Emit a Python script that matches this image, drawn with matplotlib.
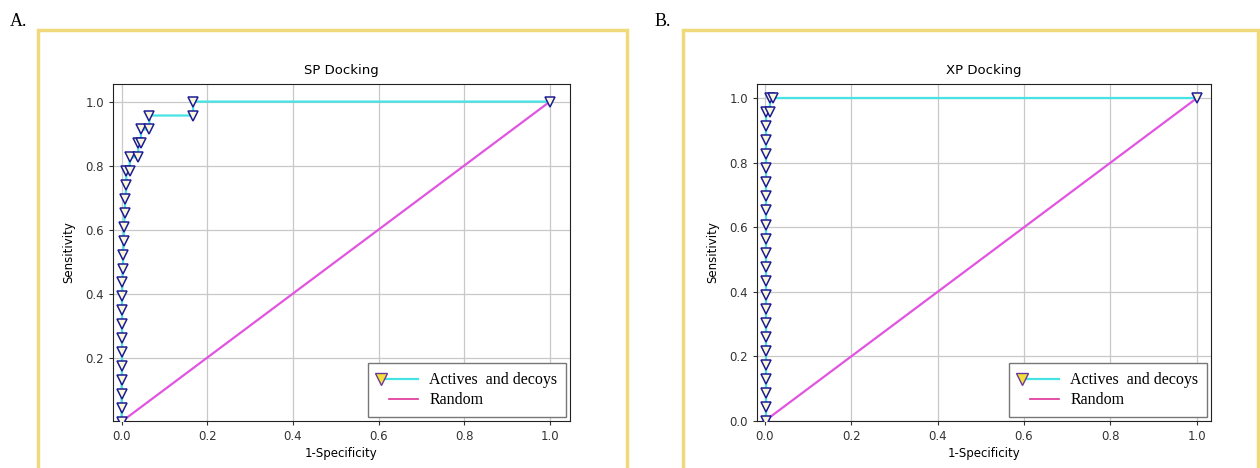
import matplotlib
matplotlib.use('Agg')
import matplotlib.pyplot as plt
from matplotlib.lines import Line2D
from matplotlib.legend_handler import HandlerLine2D
from matplotlib.patches import Rectangle

# ROC points (23 actives)
n_act = 23
tpr_steps = [k / n_act for k in range(n_act + 1)]

sp_fpr = [0, 0, 0, 0, 0.001, 0.001, 0.001, 0.001, 0.001, 0.001, 0.002, 0.003,
          0.004, 0.005, 0.006, 0.007, 0.009, 0.011, 0.011, 0.019, 0.019, 0.039,
          0.039, 0.045, 0.045, 0.065, 0.065, 0.167, 0.167, 1.0]
sp_tpr = tpr_steps[:19] + [tpr_steps[18], tpr_steps[19], tpr_steps[19], tpr_steps[20],
                           tpr_steps[20], tpr_steps[21], tpr_steps[21], tpr_steps[22],
                           tpr_steps[22], tpr_steps[23], 1.0]

xp_fpr = [0.002] * 23 + [0.011, 0.011, 0.018, 1.0]
xp_tpr = tpr_steps[:23] + [tpr_steps[22], 1.0, 1.0, 1.0]

random_x = [0, 1]
random_y = [0, 1]

titles = ['SP Docking', 'XP Docking']
panel_labels = ['A.', 'B.']
legend_labels = ['Actives  and decoys', 'Random']

CYAN = '#45e3e3'
MAGENTA = '#e155e1'
EDGE = '#1c1c96'


class OffsetLineHandler(HandlerLine2D):
    """Legend line starting a bit inside the handle box, marker at its left end"""
    def __init__(self, start=0.15, **kw):
        super().__init__(**kw)
        self.start = start

    def create_artists(self, *args, **kwargs):
        artists = super().create_artists(*args, **kwargs)
        for a in artists:
            x = a.get_xdata()
            a.set_xdata([x[0] + self.start * (x[-1] - x[0]), x[-1]])
            a.set_ydata([a.get_ydata()[0]] * 2)
            a.set_markevery([0])
        return artists


def draw_panel(ax, fpr, tpr, title, xlim, ylim, yticks):
    ax.plot(fpr, tpr, color=CYAN, lw=1.6, marker='v', markersize=6.5,
            markerfacecolor='#fbf8d8', markeredgecolor=EDGE, markeredgewidth=1.1, zorder=3)
    ax.plot(random_x, random_y, color=MAGENTA, lw=1.6, zorder=2)
    ax.set_xlim(*xlim)
    ax.set_ylim(*ylim)
    ax.set_xticks([0.0, 0.2, 0.4, 0.6, 0.8, 1.0])
    ax.set_yticks(yticks)
    ax.tick_params(labelsize=8.5, colors='#333333', length=3)
    ax.grid(True, color='#c8c8c8', lw=0.9)
    ax.set_axisbelow(True)
    for s in ax.spines.values():
        s.set_color('#222222')
    ax.set_title(title, fontsize=9.5, pad=7)
    ax.set_xlabel('1-Specificity', fontsize=8.5, labelpad=3)
    ax.set_ylabel('Sensitivity', fontsize=8.5, labelpad=7)

    h1 = Line2D([], [], color=CYAN, lw=1.6, marker='v', markersize=8.5,
                markerfacecolor='#f2e13a', markeredgecolor='#6a3a9a')
    h2 = Line2D([], [], color='#e0309a', lw=1.2)
    ax.legend([h1, h2], legend_labels, loc='lower right', fancybox=False,
              edgecolor='#777777', framealpha=1, handlelength=2.6, handletextpad=0.7,
              borderaxespad=0.25, labelspacing=0.25, borderpad=0.55,
              prop={'family': 'Liberation Serif', 'size': 11.5},
              handler_map={h1: OffsetLineHandler(start=0.12, numpoints=1),
                           h2: OffsetLineHandler(start=0.3, numpoints=1)})


fig = plt.figure(figsize=(12.6, 4.68), dpi=100)
W, H = 1260.0, 468.0

axA = fig.add_axes([113 / W, 1 - 421 / H, 457 / W, 337 / H])
axB = fig.add_axes([757 / W, 1 - 421 / H, 454 / W, 337 / H])

draw_panel(axA, sp_fpr, sp_tpr, titles[0], (-0.02, 1.047), (0.002, 1.055),
           [0.2, 0.4, 0.6, 0.8, 1.0])
draw_panel(axB, xp_fpr, xp_tpr, titles[1], (-0.018, 1.033), (0.0, 1.044),
           [0.0, 0.2, 0.4, 0.6, 0.8, 1.0])

# yellow frames around the panels
for x0, x1 in [(38, 627), (683, 1258)]:
    fig.patches.append(Rectangle((x0 / W, -0.1), (x1 - x0) / W, 1.1 - 30 / H,
                                 transform=fig.transFigure, fill=False,
                                 edgecolor='#efd97a', lw=2.5, zorder=0))

for (x, lab) in zip([10, 655], panel_labels):
    fig.text(x / W, 1 - 22 / H, lab, fontsize=13, family='Liberation Serif',
             va='center', ha='left')

fig.savefig('out.png', dpi=100)
